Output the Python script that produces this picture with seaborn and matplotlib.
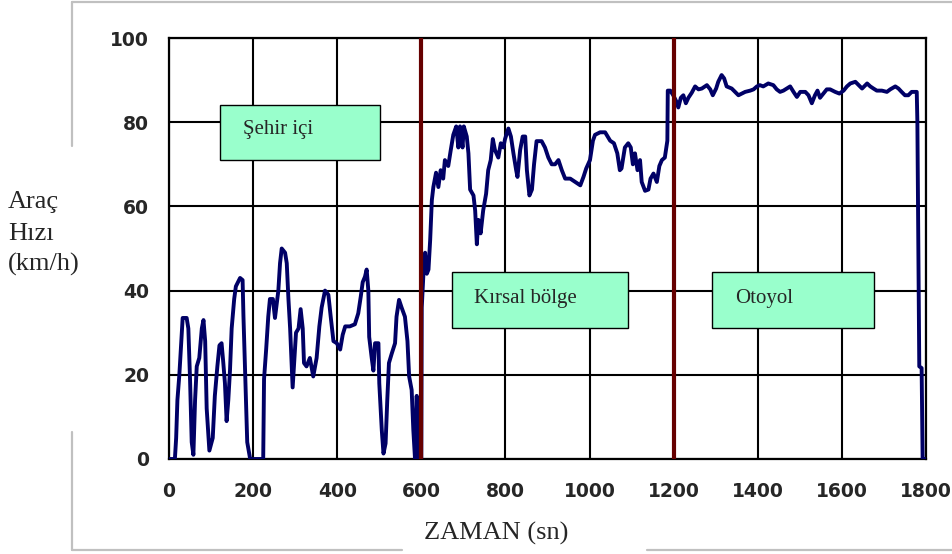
import numpy as np
import pandas as pd
import seaborn as sns
import matplotlib.pyplot as plt
from matplotlib.patches import Rectangle
from matplotlib.lines import Line2D
from matplotlib.ticker import MultipleLocator

# Drive cycle: vehicle speed (km/h) against time (s)
time_s = [
    0, 14, 17, 20, 24.6, 30, 32.5, 42, 46, 50, 54, 58, 62, 66, 72, 78, 82, 86,
    89.6, 96, 104, 109, 115, 120, 125, 129, 133, 137, 141, 145, 149, 155, 159,
    169, 175, 177, 182, 186, 193, 224, 226, 231, 236, 240, 247, 252, 260, 264,
    268, 276, 280, 284, 288, 294, 302, 308, 313, 318, 321, 327, 335, 343, 351,
    357.5, 363, 371, 379, 384.5, 391, 399, 407, 413, 419, 430, 442, 450, 456,
    460.6, 466, 470, 474, 476, 482, 486, 490, 498, 500, 506, 510, 515, 519,
    523, 529.5, 537.5, 541, 547, 553, 561, 567, 571, 577, 581, 585, 589, 593,
    598,
    600, 601, 605, 609, 613, 617, 621, 625, 628.6, 635, 640.5, 646, 652, 656,
    664, 670, 676, 683, 688, 692, 698, 701, 708, 712, 716, 724, 728, 732,
    735.6, 741, 747, 754, 759, 765, 770, 775, 783, 789, 795, 799, 807, 813,
    819, 825.5, 828.6, 835, 841, 847, 851, 857, 863, 868, 874, 886, 894, 902,
    910, 918, 926, 934, 942, 954, 966, 978, 985.5, 992, 1001, 1008, 1013,
    1025, 1037, 1049, 1058, 1066, 1072, 1076, 1084, 1092, 1098, 1103, 1108,
    1114, 1120, 1124, 1132, 1140, 1145, 1152, 1160, 1166, 1172, 1179, 1185,
    1186, 1192, 1199, 1206, 1211, 1217, 1223, 1229, 1235, 1243, 1251, 1259,
    1267, 1279, 1287, 1293, 1301, 1306, 1314, 1320, 1326, 1338, 1346, 1354,
    1362, 1370, 1382, 1390, 1398, 1405, 1413, 1425, 1437, 1445, 1453, 1461,
    1469, 1477, 1485, 1493, 1501, 1513, 1520.6, 1528.5, 1536, 1542, 1548,
    1556, 1564, 1572, 1584, 1594, 1604, 1612, 1620, 1632, 1640, 1648, 1660,
    1667.5, 1675, 1683, 1695, 1707, 1715, 1727, 1734.5, 1742, 1750, 1758,
    1766, 1774, 1778, 1779.5, 1784, 1789.6, 1792, 1800,
]
speed_kmh = [
    0, 0, 5, 14, 20, 29, 33.5, 33.5, 31, 19, 4, 1, 14, 22, 24, 31, 33, 28,
    12, 2, 5, 15, 22, 27, 27.5, 23, 18, 9, 14, 21, 31, 38, 41,
    43, 42.5, 34, 17, 4, 0, 0, 19, 26, 33.8, 38, 38, 33.5, 40, 46.5,
    50, 49, 46.5, 38, 31, 17, 30, 31, 35.6, 31, 22.8, 22, 24, 19.6, 24,
    31.5, 36, 40, 39, 33.8, 28, 27.5, 26, 29.5, 31.5, 31.5, 32, 34.6, 38.6,
    42, 43.3, 45, 40, 29, 24, 21, 27.5, 27.5, 18, 6.8, 1.3, 3.7, 14,
    22.8, 25, 27.5, 33.8, 37.8, 36, 33.8, 28, 19.6, 16.4, 6.8, 0, 15, 0,
    0,
    0, 36, 44, 49, 44, 45, 52, 61.5, 64.6, 68, 64.6, 68.6, 66.6, 71,
    69.6, 73.4, 77, 79, 74, 79, 74, 79, 76.6, 72.6, 64, 62.6, 59, 51,
    56.8, 53.6, 59, 63, 68.6, 71, 76, 73.4, 71.6, 75, 74, 76, 78.5, 76.6,
    72.6, 68.6, 67, 73.4, 76.6, 76.6, 68.6, 62.6, 64, 70, 75.5, 75.5, 74, 71.6,
    70, 70, 71, 68.6, 66.6, 66.6, 65.8, 65, 67, 69, 71, 75.6, 77,
    77.6, 77.6, 75.6, 75, 72.6, 68.6, 69, 74, 75, 74, 70, 72.6,
    68.6, 71, 65.8, 63.7, 64, 66.6, 67.8, 65.8, 69.6, 71, 71.6, 75.6,
    87.5, 87.5, 86.4, 85, 83.5, 85.8, 86.4, 84.5, 85.8, 87, 88.5, 87.8,
    88, 88.8, 87.8, 86.4, 88, 89.6, 91.2, 90.4, 88.5, 88, 87.2, 86.4,
    86.8, 87.2, 87.5, 87.8, 88.5, 88.8, 88.5, 89.2, 88.8, 87.8, 87.2, 87.5,
    88, 88.5, 87.2, 86, 87.2, 87.2, 86.4, 84.5, 86.4, 87.5, 85.8,
    86.8, 87.8, 87.8, 87.2, 86.8, 87.5, 88.5, 89.2, 89.6, 88.8, 88, 89.2,
    88.5, 88, 87.5, 87.5, 87.2, 87.8, 88.5, 88, 87.2, 86.4, 86.4,
    87.2, 87.2, 87.2, 80, 22, 21.6, 0, 0,
]

# Road-type boundaries (s) and zone labels
zone_bounds = [600, 1200]
zone_labels = ["Şehir içi", "Kırsal bölge", "Otoyol"]
zone_box_x = [(121, 502), (673, 1091.5), (1291, 1676.5)]
zone_box_y = [(71, 84.1), (31.1, 44.4), (31.1, 44.4)]
zone_text_xy = [(176, 77.1), (725, 37.05), (1346, 37.05)]

x_ticks = [0, 200, 400, 600, 800, 1000, 1200, 1400, 1600, 1800]
x_tick_labels = ["0", "200", "400", "600", "800", "1000", "1200", "1400", "1600", "1800"]
y_ticks = [0, 20, 40, 60, 80, 100]
y_tick_labels = ["0", "20", "40", "60", "80", "100"]

sns.set_style("white")
plt.rcParams['font.family'] = ['DejaVu Sans']

W, H = 953, 554
fig = plt.figure(figsize=(W / 100, H / 100), dpi=100)
ax = fig.add_axes([169 / W, 1 - 459 / H, (926 - 169) / W, (459 - 38) / H])

df = pd.DataFrame({"t": time_s, "v": speed_kmh})
sns.lineplot(data=df, x="t", y="v", ax=ax, color="#000066", linewidth=2.8,
             estimator=None, sort=False, zorder=3)

for b in zone_bounds:
    ax.axvline(b, color="#660000", linewidth=3, zorder=4)

ax.set_xlim(0, 1800)
ax.set_ylim(0, 100)
ax.set_xticks(x_ticks)
ax.set_xticklabels(x_tick_labels)
ax.set_yticks(y_ticks)
ax.set_yticklabels(y_tick_labels)
ax.xaxis.set_minor_locator(MultipleLocator(50))
ax.yaxis.set_minor_locator(MultipleLocator(5))
ax.grid(True, which="major", color="black", linewidth=1.5)
ax.set_xlabel("")
ax.set_ylabel("")

ax.tick_params(axis="x", which="both", direction="inout", length=11, width=1.6,
               pad=11, labelsize=13.5, color="black")
ax.tick_params(axis="y", which="major", direction="out", length=7.2, width=1.6,
               pad=7, labelsize=13.5, color="black")
ax.tick_params(axis="y", which="minor", direction="inout", length=11, width=1.6,
               color="black")
for lab in ax.get_xticklabels() + ax.get_yticklabels():
    lab.set_fontweight("bold")

for s in ax.spines.values():
    s.set_color("black")
    s.set_linewidth(1.6)

serif = ["Liberation Serif", "DejaVu Serif"]

for (x0, x1), (y0, y1), (tx, ty), lab in zip(zone_box_x, zone_box_y, zone_text_xy, zone_labels):
    ax.add_patch(Rectangle((x0, y0), x1 - x0, y1 - y0, facecolor="#99ffcc",
                           edgecolor="black", linewidth=1.0, zorder=5))
    ax.text(tx, ty, lab, family=serif, fontsize=15, ha="left", va="baseline",
            zorder=6)

# axis titles
for txt, base in zip(["Araç", "Hızı", "(km/h)"], [208, 240, 271]):
    fig.text(8 / W, 1 - base / H, txt, family=serif, fontsize=19,
             ha="left", va="baseline")
fig.text(496 / W, 1 - 540 / H, "ZAMAN (sn)", family=serif, fontsize=19,
         ha="center", va="baseline")

# light frame around the chart
frame = [((72, 953), (2, 2)), ((72, 72), (2, 146)), ((72, 72), (432, 550)),
         ((72, 402), (550, 550)), ((647, 953), (550, 550))]
for xs, ys in frame:
    fig.add_artist(Line2D([x / W for x in xs], [1 - y / H for y in ys],
                          color="#c0c0c0", linewidth=1.6))

fig.savefig("out.png", dpi=100)
